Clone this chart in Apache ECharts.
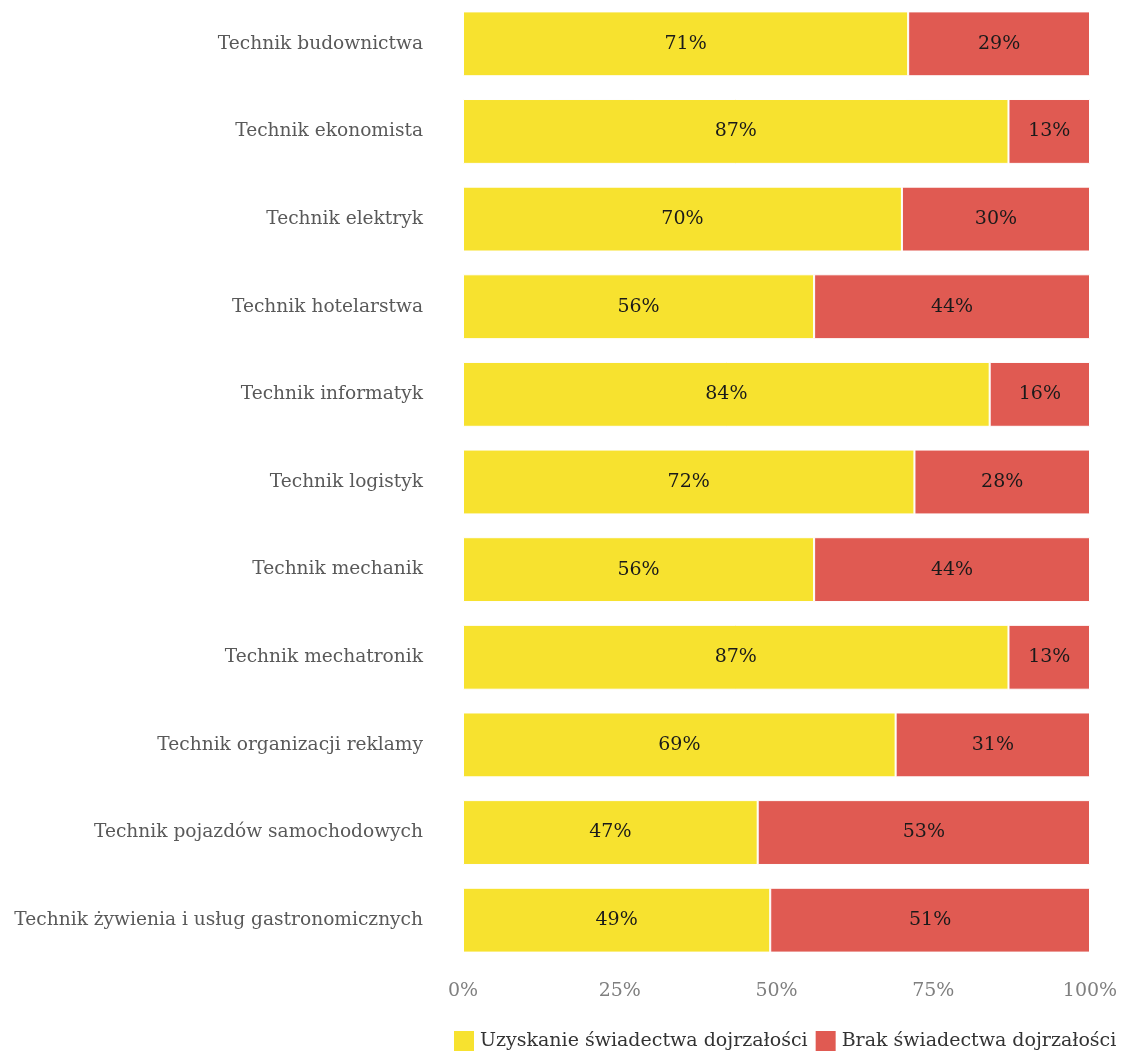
<!DOCTYPE html>
<html>
<head>
<meta charset="utf-8">
<script src="https://cdn.jsdelivr.net/npm/echarts@6/dist/echarts.min.js"></script>
<style>
  html, body { margin: 0; padding: 0; background: #fff; }
  #chart { width: 1123px; height: 1051px; }
</style>
</head>
<body>
<div id="chart"></div>
<script>
const categories = [
    "Technik budownictwa",
    "Technik ekonomista",
    "Technik elektryk",
    "Technik hotelarstwa",
    "Technik informatyk",
    "Technik logistyk",
    "Technik mechanik",
    "Technik mechatronik",
    "Technik organizacji reklamy",
    "Technik pojazdów samochodowych",
    "Technik żywienia i usług gastronomicznych",
];
const withCert = [71, 87, 70, 56, 84, 72, 56, 87, 69, 47, 49];
const withoutCert = [29, 13, 30, 44, 16, 28, 44, 13, 31, 53, 51];
const seriesNames = ["Uzyskanie świadectwa dojrzałości", "Brak świadectwa dojrzałości"];

const font = "DejaVu Serif";
const chart = echarts.init(document.getElementById("chart"));

const barLabel = {
    show: true,
    position: "inside",
    formatter: (p) => p.value + "%",
    color: "#1a1a1a",
    fontFamily: font,
    fontSize: 19,
};

chart.setOption({
    animation: false,
    grid: { left: 463, right: 33, top: 0, bottom: 87, containLabel: false },
    legend: {
        top: 1029,
        left: 452,
        padding: 0,
        itemWidth: 22,
        itemHeight: 22,
        itemGap: 6,
        icon: "rect",
        textStyle: { color: "#333", fontFamily: font, fontSize: 19 },
        data: seriesNames,
    },
    xAxis: {
        type: "value",
        min: 0,
        max: 100,
        interval: 25,
        axisLine: { show: false },
        axisTick: { show: false },
        splitLine: { show: false },
        axisLabel: {
            formatter: "{value}%",
            color: "#7f7f7f",
            fontFamily: font,
            fontSize: 19,
            margin: 18,
        },
    },
    yAxis: {
        type: "category",
        inverse: true,
        data: categories,
        axisLine: { show: false },
        axisTick: { show: false },
        axisLabel: { color: "#595959", fontFamily: font, fontSize: 18.6, margin: 40 },
    },
    series: [
        {
            name: seriesNames[0],
            type: "bar",
            stack: "total",
            barCategoryGap: "26%",
            data: withCert,
            itemStyle: { color: "#F7E22F", borderColor: "#fff", borderWidth: 1 },
            label: barLabel,
        },
        {
            name: seriesNames[1],
            type: "bar",
            stack: "total",
            data: withoutCert,
            itemStyle: { color: "#E05A52", borderColor: "#fff", borderWidth: 1 },
            label: barLabel,
        },
    ],
});
</script>
</body>
</html>
